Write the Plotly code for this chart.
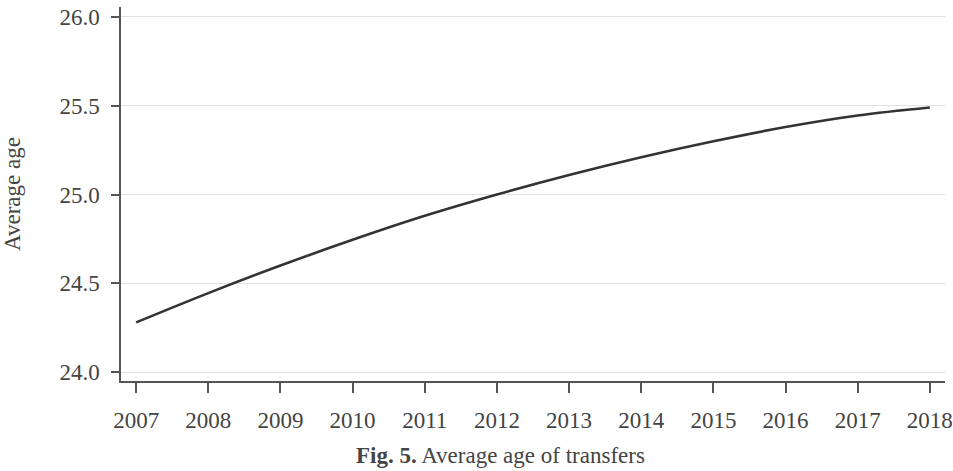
import plotly.graph_objects as go

years = [2007, 2008, 2009, 2010, 2011, 2012, 2013, 2014, 2015, 2016, 2017, 2018]
avg_age = [24.28, 24.445, 24.60, 24.745, 24.88, 25.00, 25.11, 25.21, 25.30, 25.38, 25.445, 25.49]
y_ticks = [24.0, 24.5, 25.0, 25.5, 26.0]
y_ticklabels = ["24.0", "24.5", "25.0", "25.5", "26.0"]
y_title = "Average age"
caption = "<b>Fig. 5.</b> Average age of transfers"

FONT = "Liberation Serif"
TXT = "#444444"

fig = go.Figure()
fig.add_trace(go.Scatter(
    x=years, y=avg_age, mode="lines",
    line=dict(color="#333333", width=2.6, shape="spline", smoothing=1.0),
    hoverinfo="skip", showlegend=False,
))

fig.update_layout(
    width=953, height=471,
    margin=dict(l=121, r=8, t=7, b=90, autoexpand=False),
    paper_bgcolor="white", plot_bgcolor="white",
    font=dict(family=FONT, size=23, color=TXT),
    showlegend=False,
)
fig.update_xaxes(
    range=[2006.79, 2018.21], automargin=False,
    tickvals=years, ticktext=[str(y) for y in years],
    showgrid=False, zeroline=False,
    showline=True, linecolor="#555555", linewidth=1.5,
    ticks="outside", ticklen=10, tickwidth=1.5, tickcolor="#555555",
    tickfont=dict(family=FONT, size=23, color=TXT),
    ticklabelstandoff=8,
)
fig.update_yaxes(
    range=[23.95, 26.056], automargin=False,
    tickvals=y_ticks, ticktext=y_ticklabels,
    showgrid=True, gridcolor="#e2e2e2", gridwidth=1.2,
    zeroline=False,
    showline=True, linecolor="#555555", linewidth=1.5,
    ticks="outside", ticklen=8, tickwidth=1.5, tickcolor="#555555",
    tickfont=dict(family=FONT, size=23, color=TXT),
    ticklabelstandoff=7,
    title=dict(text=y_title, font=dict(family=FONT, size=23, color=TXT), standoff=38),
)
fig.add_annotation(
    text=caption, xref="paper", yref="paper",
    x=0.46, y=-0.238, xanchor="center", yanchor="bottom",
    showarrow=False, font=dict(family=FONT, size=23, color=TXT),
)

fig.write_html("out.html")
